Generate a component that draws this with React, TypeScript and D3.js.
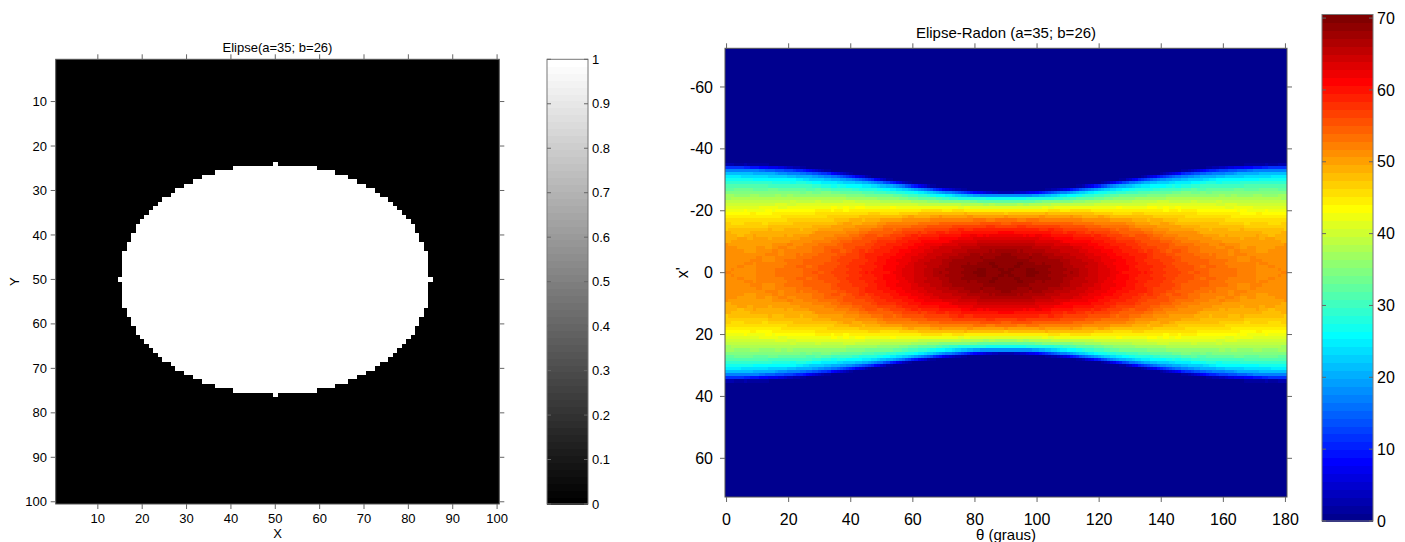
import React, { useMemo } from 'react';
import * as d3 from 'd3';

// ---------- data ----------
const imageSize = [100, 100]; // rows, cols
const ellipseCenter = [50, 50]; // col, row (1-based pixel)
const ellipseAxes = [35, 26]; // a (x), b (y)
const thetaStart = [0];
const thetaEnd = [180];
const leftXTicks = [10, 20, 30, 40, 50, 60, 70, 80, 90, 100];
const leftYTicks = [10, 20, 30, 40, 50, 60, 70, 80, 90, 100];
const grayBarTicks = [0, 0.1, 0.2, 0.3, 0.4, 0.5, 0.6, 0.7, 0.8, 0.9, 1];
const rightXTicks = [0, 20, 40, 60, 80, 100, 120, 140, 160, 180];
const rightYTicks = [-60, -40, -20, 0, 20, 40, 60];
const jetBarTicks = [0, 10, 20, 30, 40, 50, 60, 70];
const titles = ['Elipse(a=35; b=26)', 'Elipse-Radon (a=35; b=26)'];
const axisLabels = ['X', 'Y', '\u03b8 (graus)', "x'"];

const FONT = 'Liberation Sans, Arial, Helvetica, sans-serif';
const NCOL = 64;

function jetMap(m: number): number[][] {
  const n = Math.ceil(m / 4);
  const u: number[] = [];
  for (let i = 1; i <= n; i++) u.push(i / n);
  for (let i = 0; i < n - 1; i++) u.push(1);
  for (let i = n; i >= 1; i--) u.push(i / n);
  const gOff = Math.ceil(n / 2) - (m % 4 === 1 ? 1 : 0);
  const J = Array.from({ length: m }, () => [0, 0, 0]);
  u.forEach((v, i) => {
    const g = gOff + i + 1;
    const r = g + n;
    const b = g - n;
    if (r >= 1 && r <= m) J[r - 1][0] = v;
    if (g >= 1 && g <= m) J[g - 1][1] = v;
    if (b >= 1 && b <= m) J[b - 1][2] = v;
  });
  return J;
}
const toRgb = (c: number[]) =>
  `rgb(${Math.round(c[0] * 255)},${Math.round(c[1] * 255)},${Math.round(c[2] * 255)})`;

function buildMask(): number[][] {
  const [M, N] = imageSize;
  const [cx, cy] = ellipseCenter;
  const [a, b] = ellipseAxes;
  const mask: number[][] = [];
  for (let r = 1; r <= M; r++) {
    const row: number[] = [];
    for (let c = 1; c <= N; c++) {
      const v = ((c - cx) / a) ** 2 + ((r - cy) / b) ** 2;
      row.push(v <= 1 + 1e-9 ? 1 : 0);
    }
    mask.push(row);
  }
  return mask;
}

// Radon transform in the same way as MATLAB's radon (4 sub-pixels, linear binning)
function radon(mask: number[][], thetas: number[]) {
  const M = mask.length;
  const N = mask[0].length;
  const center = [Math.floor((M + 1) / 2), Math.floor((N + 1) / 2)];
  const rLast = Math.ceil(Math.hypot(M - center[0], N - center[1])) + 1;
  const rFirst = -rLast;
  const rSize = 2 * rLast + 1;
  const xOrigin = center[1] - 1;
  const yOrigin = center[0] - 1;
  const out: Float64Array[] = [];
  thetas.forEach((t) => {
    const bins = new Float64Array(rSize + 2);
    const cs = Math.cos((t * Math.PI) / 180);
    const sn = Math.sin((t * Math.PI) / 180);
    for (let m = 0; m < M; m++) {
      for (let n = 0; n < N; n++) {
        const val = mask[m][n];
        if (!val) continue;
        const p = val * 0.25;
        const x = n - xOrigin;
        const y = yOrigin - m;
        for (const dx of [-0.25, 0.25]) {
          for (const dy of [-0.25, 0.25]) {
            const r = (x + dx) * cs + (y + dy) * sn - rFirst;
            const i = Math.floor(r);
            const d = r - i;
            bins[i] += p * (1 - d);
            bins[i + 1] += p * d;
          }
        }
      }
    }
    out.push(bins.slice(0, rSize));
  });
  const xp = d3.range(rFirst, rLast + 1);
  return { R: out, xp };
}

export default function App() {
  const W = 1405;
  const H = 542;

  const mask = useMemo(buildMask, []);
  const thetas = useMemo(() => d3.range(thetaStart[0], thetaEnd[0] + 1), []);
  const { R, xp } = useMemo(() => radon(mask, thetas), [mask, thetas]);
  const cmax = useMemo(() => d3.max(R, (col) => d3.max(col) as number) as number, [R]);
  const jet = useMemo(() => jetMap(NCOL), []);
  const jetCss = jet.map(toRgb);

  // ---------- left plot ----------
  const L = { x0: 55.7, x1: 499.3, y0: 59.3, y1: 504 };
  const lx = d3.scaleLinear().domain([0.5, imageSize[1] + 0.5]).range([L.x0, L.x1]);
  const ly = d3.scaleLinear().domain([0.5, imageSize[0] + 0.5]).range([L.y0, L.y1]);
  const lcx = (L.x0 + L.x1) / 2;

  const runs: { r: number; c0: number; c1: number }[] = [];
  mask.forEach((row, i) => {
    let c0 = -1;
    let c1 = -1;
    row.forEach((v, j) => {
      if (v) {
        if (c0 < 0) c0 = j + 1;
        c1 = j + 1;
      }
    });
    if (c0 > 0) runs.push({ r: i + 1, c0, c1 });
  });

  const GB = { x0: 547, x1: 588, y0: 59.3, y1: 504 };
  const gby = d3.scaleLinear().domain([0, 1]).range([GB.y1, GB.y0]);

  // ---------- right plot ----------
  const Rp = { x0: 725, x1: 1287, y0: 48.3, y1: 497 };
  const rx = d3.scaleLinear().domain([thetaStart[0] - 0.5, thetaEnd[0] + 0.5]).range([Rp.x0, Rp.x1]);
  const ry = d3.scaleLinear().domain([xp[0] - 0.5, xp[xp.length - 1] + 0.5]).range([Rp.y0, Rp.y1]);
  const rcx = (Rp.x0 + Rp.x1) / 2;

  const colorIndex = (v: number) => Math.max(0, Math.min(NCOL - 1, Math.floor((v / cmax) * NCOL)));

  const cells: { x: number; w: number; y: number; h: number; ci: number }[] = [];
  R.forEach((col, k) => {
    const t = thetas[k];
    let start = 0;
    let cur = colorIndex(col[0]);
    for (let i = 1; i <= col.length; i++) {
      const ci = i < col.length ? colorIndex(col[i]) : -1;
      if (ci !== cur) {
        if (cur !== 0) {
          const yTop = ry(xp[start] - 0.5);
          const yBot = ry(xp[i - 1] + 0.5);
          cells.push({ x: rx(t - 0.5), w: rx(t + 0.5) - rx(t - 0.5), y: yTop, h: yBot - yTop, ci: cur });
        }
        start = i;
        cur = ci;
      }
    }
  });

  const JB = { x0: 1322, x1: 1373, y0: 14.5, y1: 521 };
  const jby = d3.scaleLinear().domain([0, cmax]).range([JB.y1, JB.y0]);
  const jbBand = d3.scaleLinear().domain([0, NCOL]).range([JB.y1, JB.y0]);
  const gbBand = d3.scaleLinear().domain([0, NCOL]).range([GB.y1, GB.y0]);

  const tickCol = '#666';
  const TL = 5;

  return (
    <svg
      width={W}
      height={H}
      style={{ position: 'absolute', left: 0, top: 0, background: '#fff' }}
      fontFamily={FONT}
    >
      {/* ===== left image ===== */}
      <rect x={L.x0} y={L.y0} width={L.x1 - L.x0} height={L.y1 - L.y0} fill="#000" />
      <g shapeRendering="crispEdges">
        {runs.map((r) => (
          <rect
            key={r.r}
            x={lx(r.c0 - 0.5)}
            y={ly(r.r - 0.5)}
            width={lx(r.c1 + 0.5) - lx(r.c0 - 0.5)}
            height={ly(r.r + 0.5) - ly(r.r - 0.5)}
            fill="#fff"
          />
        ))}
      </g>
      <rect x={L.x0} y={L.y0} width={L.x1 - L.x0} height={L.y1 - L.y0} fill="none" stroke="#555" strokeWidth={1} />
      {leftXTicks.map((t) => (
        <g key={'lx' + t}>
          <line x1={lx(t)} x2={lx(t)} y1={L.y1} y2={L.y1 + TL} stroke={tickCol} />
          <line x1={lx(t)} x2={lx(t)} y1={L.y0} y2={L.y0 - TL} stroke={tickCol} />
          <text x={lx(t)} y={523} fontSize={13} textAnchor="middle" fill="#000">
            {t}
          </text>
        </g>
      ))}
      {leftYTicks.map((t) => (
        <g key={'ly' + t}>
          <line x1={L.x0} x2={L.x0 - TL} y1={ly(t)} y2={ly(t)} stroke={tickCol} />
          <line x1={L.x1} x2={L.x1 + TL} y1={ly(t)} y2={ly(t)} stroke={tickCol} />
          <text x={47} y={ly(t)} dy="0.35em" fontSize={13} textAnchor="end" fill="#000">
            {t}
          </text>
        </g>
      ))}
      <text x={lcx} y={52} fontSize={13} textAnchor="middle">
        {titles[0]}
      </text>
      <text x={lcx} y={538} fontSize={13} textAnchor="middle">
        {axisLabels[0]}
      </text>
      <text transform={`translate(19,${(L.y0 + L.y1) / 2}) rotate(-90)`} fontSize={13} textAnchor="middle">
        {axisLabels[1]}
      </text>

      {/* gray colorbar */}
      <g shapeRendering="crispEdges">
        {d3.range(NCOL).map((i) => {
          const g = Math.round((i / (NCOL - 1)) * 255);
          return (
            <rect
              key={'gb' + i}
              x={GB.x0}
              y={gbBand(i + 1)}
              width={GB.x1 - GB.x0}
              height={gbBand(i) - gbBand(i + 1) + 0.5}
              fill={`rgb(${g},${g},${g})`}
            />
          );
        })}
      </g>
      <rect x={GB.x0} y={GB.y0} width={GB.x1 - GB.x0} height={GB.y1 - GB.y0} fill="none" stroke="#777" />
      {grayBarTicks.map((t) => (
        <g key={'gbt' + t}>
          <line x1={GB.x0} x2={GB.x0 + 4} y1={gby(t)} y2={gby(t)} stroke={tickCol} />
          <line x1={GB.x1} x2={GB.x1 - 4} y1={gby(t)} y2={gby(t)} stroke={tickCol} />
          <text x={GB.x1 + 4} y={gby(t)} dy="0.35em" fontSize={13}>
            {t}
          </text>
        </g>
      ))}

      {/* ===== right radon image ===== */}
      <rect x={Rp.x0} y={Rp.y0} width={Rp.x1 - Rp.x0} height={Rp.y1 - Rp.y0} fill={jetCss[0]} />
      <g shapeRendering="crispEdges">
        {cells.map((c, i) => (
          <rect key={i} x={c.x} y={c.y} width={c.w + 0.3} height={c.h} fill={jetCss[c.ci]} />
        ))}
      </g>
      <rect x={Rp.x0} y={Rp.y0} width={Rp.x1 - Rp.x0} height={Rp.y1 - Rp.y0} fill="none" stroke="#555" />
      {rightXTicks.map((t) => (
        <g key={'rx' + t}>
          <line x1={rx(t)} x2={rx(t)} y1={Rp.y1} y2={Rp.y1 + TL} stroke={tickCol} />
          <line x1={rx(t)} x2={rx(t)} y1={Rp.y0} y2={Rp.y0 - TL} stroke={tickCol} />
          <text x={rx(t)} y={525} fontSize={16} textAnchor="middle">
            {t}
          </text>
        </g>
      ))}
      {rightYTicks.map((t) => (
        <g key={'ry' + t}>
          <line x1={Rp.x0} x2={Rp.x0 - TL} y1={ry(t)} y2={ry(t)} stroke={tickCol} />
          <line x1={Rp.x1} x2={Rp.x1 + TL} y1={ry(t)} y2={ry(t)} stroke={tickCol} />
          <text x={713} y={ry(t)} dy="0.35em" fontSize={16} textAnchor="end">
            {t}
          </text>
        </g>
      ))}
      <text x={rcx} y={38} fontSize={15} textAnchor="middle">
        {titles[1]}
      </text>
      <text x={rcx} y={540} fontSize={15} textAnchor="middle">
        {axisLabels[2]}
      </text>
      <text transform={`translate(688,${(Rp.y0 + Rp.y1) / 2}) rotate(-90)`} fontSize={16} textAnchor="middle">
        {axisLabels[3]}
      </text>

      {/* jet colorbar */}
      <g shapeRendering="crispEdges">
        {d3.range(NCOL).map((i) => (
          <rect
            key={'jb' + i}
            x={JB.x0}
            y={jbBand(i + 1)}
            width={JB.x1 - JB.x0}
            height={jbBand(i) - jbBand(i + 1) + 0.5}
            fill={jetCss[i]}
          />
        ))}
      </g>
      <rect x={JB.x0} y={JB.y0} width={JB.x1 - JB.x0} height={JB.y1 - JB.y0} fill="none" stroke="#777" />
      {jetBarTicks.map((t) => (
        <g key={'jbt' + t}>
          <line x1={JB.x0} x2={JB.x0 + 4} y1={jby(t)} y2={jby(t)} stroke={tickCol} />
          <line x1={JB.x1} x2={JB.x1 - 4} y1={jby(t)} y2={jby(t)} stroke={tickCol} />
          <text x={JB.x1 + 4} y={jby(t)} dy="0.35em" fontSize={16}>
            {t}
          </text>
        </g>
      ))}
    </svg>
  );
}
